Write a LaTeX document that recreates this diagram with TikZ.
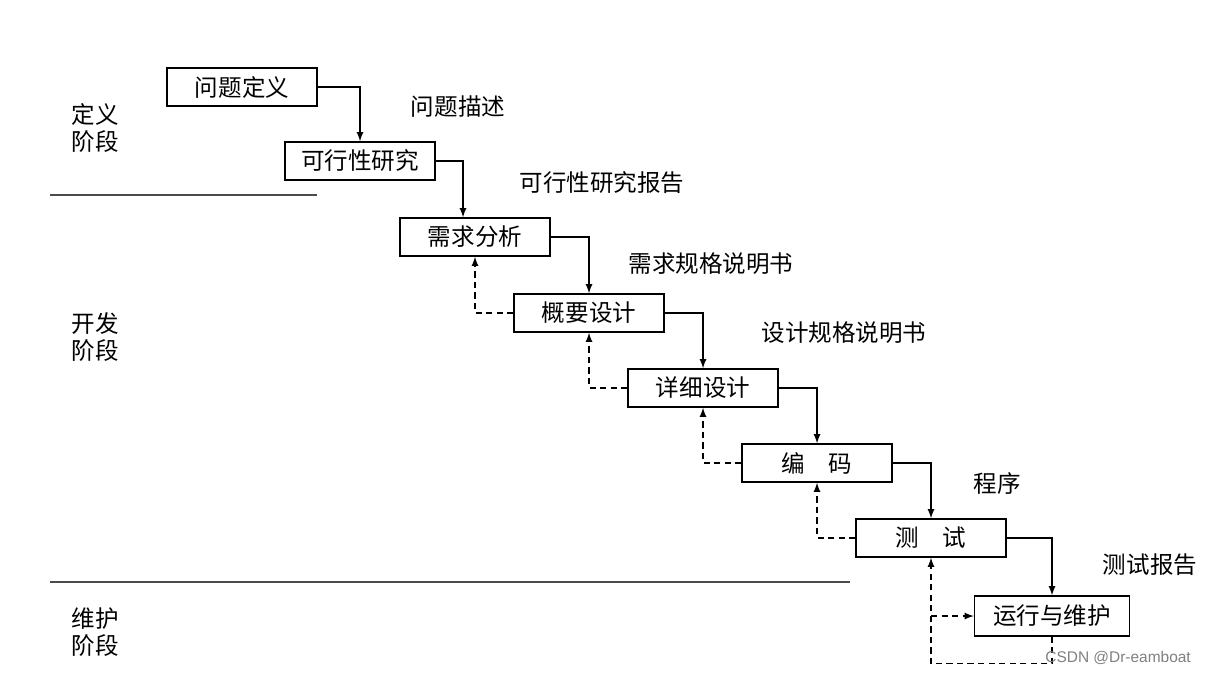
\documentclass[tikz,border=0pt]{standalone}
\usepackage{fontspec}
\setmainfont{Noto Sans CJK SC}
\newfontfamily\markfont{Liberation Sans}
\usetikzlibrary{arrows}
\tikzset{block/.style = {draw, rectangle, line width = 0.8pt, minimum height = 0.76cm, minimum width = 3cm, inner sep = 0pt},
         doc/.style = {inner sep = 0pt},
         stage/.style = {align = left, inner sep = 0pt},
         forth/.style = {line width = 0.8pt, -latex},
         back/.style = {line width = 0.8pt, dash pattern = on 3.5pt off 2.5pt, -latex},
         split/.style = {draw = black!70, line width = 0.6pt},
}

\begin{document}
\begin{tikzpicture}[x = 0.02cm, y = -0.02cm, font = \fontsize{13.4}{15.5}\selectfont]
  \useasboundingbox (0,0) rectangle (1213,674);

  \node[block] at (242, 87)  (define)   {问题定义};
  \node[block] at (360, 161) (feasible) {可行性研究};
  \node[block] at (475, 237) (require)  {需求分析};
  \node[block] at (589, 313) (outline)  {概要设计};
  \node[block] at (703, 388) (detail)   {详细设计};
  \node[block] at (817, 463) (coding)   {编\hspace{1em}码};
  \node[block] at (931, 538) (testing)  {测\hspace{1em}试};
  \node[block, minimum width = 3.1cm, minimum height = 0.8cm] at (1052, 616) (maintain) {运行与维护};

  \node[doc] at (458, 107)  (d1) {问题描述};
  \node[doc] at (602, 183)  (d2) {可行性研究报告};
  \node[doc] at (711, 264)  (d3) {需求规格说明书};
  \node[doc] at (844, 333)  (d4) {设计规格说明书};
  \node[doc] at (997, 484)  (d5) {程序};
  \node[doc] at (1150, 565) (d6) {测试报告};

  \node[stage] at (95, 128) (s1) {定义\\阶段};
  \node[stage] at (95, 337) (s2) {开发\\阶段};
  \node[stage] at (95, 632) (s3) {维护\\阶段};

  \draw[split] (50, 195) -- (317, 195);
  \draw[split] (50, 582) -- (850, 582);

  \draw[forth] (define) -| (feasible);
  \draw[forth] (feasible) -| ([xshift = -0.24cm]require.north);
  \draw[forth] (require) -| (outline);
  \draw[forth] (outline) -| (detail);
  \draw[forth] (detail) -| (coding);
  \draw[forth] (coding) -| (testing);
  \draw[forth] (testing) -| (maintain);

  \draw[back] (outline) -| (require);
  \draw[back] (detail) -| (outline);
  \draw[back] (coding) -| (detail);
  \draw[back] (testing) -| (coding);
  \draw[back] (maintain.south) -- ++(0, 27) -| (testing.south);
  \draw[back] (testing.south |- maintain.west) -- (maintain.west);

  \node[text = gray, font = \markfont\fontsize{8.8}{10}\selectfont, anchor = east] at (1197, 658) (mark) {CSDN @Dr-eamboat};

\end{tikzpicture}
\end{document}
